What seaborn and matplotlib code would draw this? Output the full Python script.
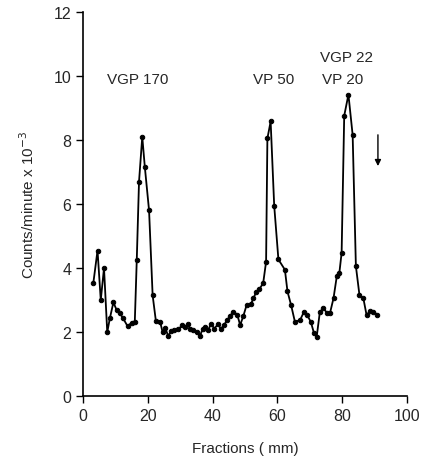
import numpy as np
import pandas as pd
import seaborn as sns
import matplotlib.pyplot as plt

# fractions (mm) and counts/minute x 10^-3
fractions = [3.2, 4.5, 5.5, 6.5, 7.5, 8.3, 9.4, 10.4, 11.4, 12.4, 13.8, 15.0, 16.0, 16.6,
             17.3, 18.3, 19.1, 20.4, 21.5, 22.5, 23.8, 24.6, 25.4, 26.3, 27.2, 28.1, 29.4,
             30.7, 31.5, 32.3, 33.0, 34.0, 35.1, 36.1, 36.9, 37.7, 38.7, 39.5, 40.5, 41.6,
             42.6, 43.5, 44.5, 45.4, 46.4, 47.6, 48.5, 49.5, 50.5, 51.8, 52.6, 53.4, 54.4,
             55.6, 56.5, 56.9, 57.9, 59.0, 60.3, 62.3, 63.1, 64.2, 65.4, 67.0, 68.2, 69.2,
             70.3, 71.3, 72.1, 73.1, 74.2, 75.4, 76.2, 77.3, 78.3, 79.1, 79.8, 80.6, 81.9,
             83.2, 84.2, 85.3, 86.5, 87.5, 88.5, 89.6, 90.8]
counts = [3.53, 4.55, 3.0, 4.0, 2.0, 2.43, 2.93, 2.69, 2.59, 2.43, 2.18, 2.3, 2.33, 4.24,
          6.7, 8.1, 7.15, 5.8, 3.15, 2.35, 2.33, 1.99, 2.13, 1.88, 2.03, 2.07, 2.09,
          2.22, 2.15, 2.25, 2.11, 2.06, 1.99, 1.88, 2.09, 2.15, 2.07, 2.27, 2.11, 2.24,
          2.11, 2.22, 2.38, 2.51, 2.64, 2.55, 2.22, 2.51, 2.85, 2.87, 3.06, 3.24, 3.34,
          3.53, 4.2, 8.05, 8.58, 5.95, 4.27, 3.95, 3.27, 2.85, 2.32, 2.38, 2.64, 2.53,
          2.32, 1.96, 1.85, 2.64, 2.74, 2.59, 2.59, 3.06, 3.74, 3.85, 4.48, 8.76, 9.42,
          8.16, 4.06, 3.16, 3.06, 2.53, 2.66, 2.64, 2.55]

peak_labels = ['VGP 170', 'VP 50', 'VGP 22', 'VP 20']
label_x = [17, 58.7, 81.4, 80]
label_y = [9.9, 9.9, 10.6, 9.9]

df = pd.DataFrame({'fraction': fractions, 'counts': counts})

sns.set_style('ticks')
plt.rcParams['font.family'] = ['Liberation Sans', 'DejaVu Sans']

fig = plt.figure(figsize=(4.21, 4.64), dpi=100)
ax = fig.add_axes([0.197, 0.144, 0.77, 0.828])

sns.lineplot(data=df, x='fraction', y='counts', ax=ax, color='black', linewidth=1.3,
             marker='o', markersize=3.2, markeredgecolor='black', sort=False)

for t, x, y in zip(peak_labels, label_x, label_y):
    ax.text(x, y, t, ha='center', va='center', fontsize=11)

# arrow marking the top of the gradient
ax.annotate('', xy=(91, 7.1), xytext=(91, 8.25),
            arrowprops=dict(arrowstyle='-|>', color='black', lw=1.0, mutation_scale=9))

ax.set_xlim(0, 100)
ax.set_ylim(0, 12)
ax.set_xticks(range(0, 101, 20))
ax.set_yticks(range(0, 13, 2))
ax.tick_params(labelsize=11.5, length=5, width=1, color='black')
ax.set_xlabel('Fractions ( mm)', fontsize=11, labelpad=13)
ax.set_ylabel('Counts/minute x 10$^{-3}$', fontsize=11, labelpad=12)
sns.despine(ax=ax)
for s in ['left', 'bottom']:
    ax.spines[s].set_linewidth(1.2)
    ax.spines[s].set_color('black')

fig.savefig('out.png', dpi=100)
